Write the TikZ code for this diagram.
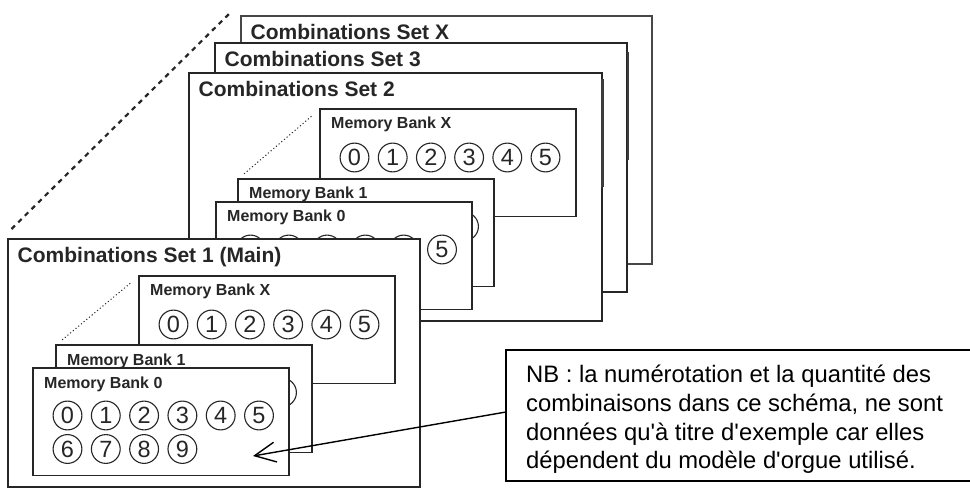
\documentclass[tikz,border=0pt]{standalone}
\usepackage{fontspec}
\setmainfont{Liberation Sans}
\newfontfamily\notefont{Liberation Sans}
\usetikzlibrary{arrows.meta,calc}
\definecolor{ink}{HTML}{262626}
\begin{document}
\begin{tikzpicture}[x=1pt,y=-1pt,
  panel/.style={draw=ink,line width=1.3pt,fill=white,anchor=north west,inner sep=0pt,outer sep=0pt},
  setpanel/.style={panel,minimum width=412pt,minimum height=248pt},
  bankpanel/.style={panel,minimum width=256pt,minimum height=107.5pt},
  settitle/.style={anchor=base west,inner sep=0pt,text=ink,font=\fontsize{21}{21}\selectfont\bfseries,xshift=9.5pt,yshift=-23.5pt},
  banktitle/.style={anchor=base west,inner sep=0pt,text=ink,font=\fontsize{16}{16}\selectfont\bfseries,xshift=11pt,yshift=-20pt},
  num/.style={circle,draw=ink,line width=1.1pt,fill=white,minimum size=28.8pt,inner sep=0pt,text=ink,font=\fontsize{23.5}{23.5}\selectfont},
  fine/.style={draw=ink,line width=1pt,dash pattern=on 1.1pt off 2.4pt},
  bigdash/.style={draw=ink,line width=2.2pt,dash pattern=on 4.8pt off 4.6pt},
  shade/.style={draw=ink!90,line width=2.2pt}]
\fill[white] (0,0) rectangle (970,489);
\useasboundingbox (0,0) rectangle (970,489);
\clip (0,0) rectangle (970,489);

% far dashed line
\coordinate (d1) at (11.5,229);
\coordinate (d2) at (231,12);
\draw[bigdash] (d1) -- (d2);

% Set X
\node[setpanel,minimum width=411pt,draw=ink!85,line width=1.1pt] (setX) at (241,16) {};
\node[settitle] (tX) at (setX.north west) {Combinations Set X};

% Set 3
\node[setpanel,minimum height=249pt] (set3) at (215,43) {};
\node[settitle] (t3) at (set3.north west) {Combinations Set 3};
\draw[shade] ([yshift=-9pt,xshift=0.6pt]set3.north east) -- ([yshift=-117pt,xshift=0.6pt]set3.north east);

% Set 2
\node[setpanel,minimum width=413pt] (set2) at (189,73) {};
\node[settitle] (t2) at (set2.north west) {Combinations Set 2};
\draw[shade] ([yshift=-6pt,xshift=0.4pt]set2.north east) -- ([yshift=-114pt,xshift=0.4pt]set2.north east);

\node[bankpanel] (s2mbx) at ($(set2.north west)+(131,36)$) {};
\node[banktitle] (s2tx) at (s2mbx.north west) {Memory Bank X};
\foreach \i in {0,...,5}
  \node[num] (s2x\i) at ($(s2mbx.north west)+({34.5+38.2*\i},48.5)$) {\i};

\node[bankpanel] (s2mb1) at ($(set2.north west)+(49,106)$) {};
\node[banktitle] (s2t1) at (s2mb1.north west) {Memory Bank 1};
\foreach \i in {0,...,5}
  \node[num] (s2a\i) at ($(s2mb1.north west)+({34.5+38.3*\i},47.5)$) {\i};
\draw[fine,shorten <=8pt,shorten >=9pt] (s2mb1.north west) -- (s2mbx.north west);

\node[bankpanel] (s2mb0) at ($(set2.north west)+(27,129)$) {};
\node[banktitle] (s2t0) at (s2mb0.north west) {Memory Bank 0};
\foreach \i in {0,...,5}
  \node[num] (s2b\i) at ($(s2mb0.north west)+({34.5+38.3*\i},47.5)$) {\i};
\foreach \i/\n in {0/6,1/7,2/8,3/9}
  \node[num] (s2c\n) at ($(s2mb0.north west)+({34.5+38.3*\i},81)$) {\n};

% Set 1 (Main)
\node[setpanel] (set1) at (8,239) {};
\node[settitle] (t1) at (set1.north west) {Combinations Set 1 (Main)};

\node[bankpanel] (s1mbx) at ($(set1.north west)+(131,37)$) {};
\node[banktitle] (s1tx) at (s1mbx.north west) {Memory Bank X};
\foreach \i in {0,...,5}
  \node[num] (s1x\i) at ($(s1mbx.north west)+({34.5+38.2*\i},48.5)$) {\i};

\node[bankpanel] (s1mb1) at ($(set1.north west)+(48,106)$) {};
\node[banktitle] (s1t1) at (s1mb1.north west) {Memory Bank 1};
\foreach \i in {0,...,5}
  \node[num] (s1a\i) at ($(s1mb1.north west)+({34.5+38.3*\i},47.5)$) {\i};
\draw[fine,shorten <=8pt,shorten >=10pt] (s1mb1.north west) -- (s1mbx.north west);

\node[bankpanel] (s1mb0) at ($(set1.north west)+(25,129)$) {};
\node[banktitle] (s1t0) at (s1mb0.north west) {Memory Bank 0};
\foreach \i in {0,...,5}
  \node[num] (s1b\i) at ($(s1mb0.north west)+({34.5+38.3*\i},47.5)$) {\i};
\foreach \i/\n in {0/6,1/7,2/8,3/9}
  \node[num] (s1c\n) at ($(s1mb0.north west)+({34.5+38.3*\i},81)$) {\n};

% note (its right side runs past the picture's edge)
\node[panel,draw=black,line width=1.8pt,minimum width=500pt,minimum height=131pt] (note) at (506,350) {};
\node[anchor=base west,inner sep=0pt,font=\notefont\fontsize{23.8}{28.7}\selectfont] (notetext) at (526,382.7)
  {\begin{tabular}[t]{@{}l@{}}NB : la numérotation et la quantité des\\
  combinaisons dans ce schéma, ne sont\\
  données qu'à titre d'exemple car elles\\
  dépendent du modèle d'orgue utilisé.\end{tabular}};

\coordinate (tip) at (253,456);
\draw[line width=1.4pt,-{Straight Barb[length=21pt,width=20pt,line width=1.4pt]}] ([yshift=3.5pt]note.west) -- (tip);
\end{tikzpicture}
\end{document}
